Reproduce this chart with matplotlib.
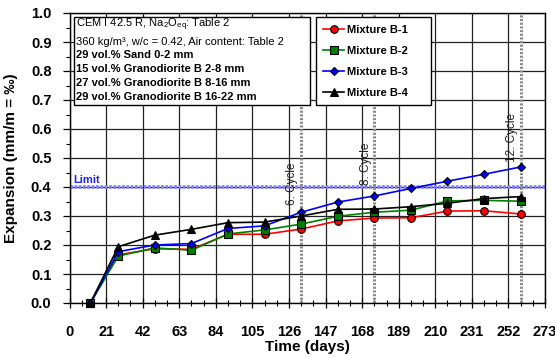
import matplotlib
matplotlib.use("Agg")
import matplotlib.pyplot as plt
from matplotlib.patches import Rectangle
from matplotlib.ticker import MultipleLocator

plt.rcParams['font.family'] = ['Liberation Sans', 'DejaVu Sans']
plt.rcParams['mathtext.fontset'] = 'custom'
plt.rcParams['mathtext.rm'] = 'Liberation Sans'
plt.rcParams['mathtext.it'] = 'Liberation Sans:italic'
plt.rcParams['mathtext.bf'] = 'Liberation Sans:bold'

# Measurement ages (days) and expansion of the four mixtures (mm/m)
days = [12, 28, 49, 70, 91, 112, 133, 154, 175, 196, 217, 238, 259]
mix_b1 = [0.0, 0.166, 0.187, 0.185, 0.237, 0.237, 0.255, 0.283, 0.293, 0.294, 0.317, 0.318, 0.307]
mix_b2 = [0.0, 0.162, 0.190, 0.182, 0.238, 0.252, 0.272, 0.299, 0.313, 0.320, 0.352, 0.354, 0.351]
mix_b3 = [0.0, 0.177, 0.200, 0.205, 0.257, 0.266, 0.313, 0.348, 0.369, 0.395, 0.420, 0.444, 0.469]
mix_b4 = [0.0, 0.194, 0.234, 0.254, 0.277, 0.279, 0.300, 0.323, 0.324, 0.332, 0.344, 0.360, 0.367]
series_labels = ["Mixture B-1", "Mixture B-2", "Mixture B-3", "Mixture B-4"]

limit_value = 0.4
cycle_days = [133, 175, 259]
cycle_labels = ["6. Cycle", "8. Cycle", "12. Cycle"]
cycle_label_y = [0.338, 0.407, 0.486]

info_lines = [
    (r"CEM I 42.5 R, Na$_2$O$_{\mathrm{eq}}$: Table 2", "normal"),
    ("360 kg/m³, w/c = 0.42, Air content: Table 2", "normal"),
    ("29 vol.% Sand 0-2 mm", "bold"),
    ("15 vol.% Granodiorite B 2-8 mm", "bold"),
    ("27 vol.% Granodiorite B 8-16 mm", "bold"),
    ("29 vol.% Granodiorite B 16-22 mm", "bold"),
]

W, H = 555, 358
fig = plt.figure(figsize=(W / 100, H / 100), dpi=100)
ax = fig.add_axes([69.5 / W, 1 - 303 / H, (545 - 69.5) / W, (303 - 13) / H])

ax.set_xlim(0, 273)
ax.set_ylim(0, 1.0)
ax.xaxis.set_major_locator(MultipleLocator(21))
ax.xaxis.set_minor_locator(MultipleLocator(7))
ax.yaxis.set_major_locator(MultipleLocator(0.1))
ax.yaxis.set_minor_locator(MultipleLocator(0.05))
ax.yaxis.set_major_formatter(matplotlib.ticker.FormatStrFormatter('%.1f'))

ax.grid(True, which='major', color='#222222', linewidth=0.9, zorder=0)
ax.set_axisbelow(True)
for s in ax.spines.values():
    s.set_linewidth(1.0)
    s.set_color('black')

ax.tick_params(axis='x', which='major', direction='inout', length=7, width=0.9, pad=12,
               labelsize=10.5)
ax.tick_params(axis='x', which='minor', direction='inout', length=5, width=0.8)
ax.tick_params(axis='y', which='major', direction='out', length=5, width=0.9, pad=8,
               labelsize=10.5)
ax.tick_params(axis='y', which='minor', direction='out', length=3, width=0.8)
for lab in ax.get_xticklabels() + ax.get_yticklabels():
    lab.set_fontweight('bold')

ax.set_xlabel("Time (days)", fontsize=11, fontweight='bold', labelpad=1)
ax.set_ylabel("Expansion (mm/m = ‰)", fontsize=11, fontweight='bold', labelpad=9)

# limit line
ax.axhline(limit_value, color='#8080ff', linewidth=2.6, linestyle=(0, (0.8, 0.4)), zorder=2)
ax.text(2.2, limit_value + 0.008, "Limit", color='#2222ee', fontsize=8, fontweight='bold',
        ha='left', va='bottom', zorder=3)

# cycle markers
for d, lab, yy in zip(cycle_days, cycle_labels, cycle_label_y):
    ax.axvline(d, color='#8a8a8a', linewidth=2.2, linestyle=(0, (0.7, 0.5)), zorder=2)
    ax.text(d - 1.6, yy, lab, rotation=90, ha='right', va='bottom', fontsize=8.5,
            color='#222222', zorder=3)

styles = [
    dict(color='#ff0000', marker='o', markersize=5.5),
    dict(color='#008000', marker='s', markersize=5.5),
    dict(color='#0000ff', marker='D', markersize=4.2),
    dict(color='#000000', marker='^', markersize=6),
]
handles = []
for vals, st, lab in zip([mix_b1, mix_b2, mix_b3, mix_b4], styles, series_labels):
    h, = ax.plot(days, vals, linewidth=1.2, markeredgecolor='black',
                 markeredgewidth=0.8, label=lab, zorder=4, clip_on=False, **st)
    handles.append(h)

# composition box
ax.add_patch(Rectangle((0.0095, 0.682), 0.4965, 0.303, transform=ax.transAxes,
                       facecolor='white', edgecolor='black', linewidth=1.0, zorder=5))
line_y_px = [25, 42, 55.5, 69.5, 82.5, 96.5]
for (txt, wt), ypx in zip(info_lines, line_y_px):
    ax.text(0.0137, (303 - ypx) / 290, txt, transform=ax.transAxes, fontsize=8,
            fontweight=wt, ha='left', va='center', zorder=6)

leg = ax.legend(handles=handles, loc='upper left', bbox_to_anchor=(0.518, 0.682, 0.242, 0.303),
                mode='expand', fancybox=False, framealpha=1, edgecolor='black',
                prop={'weight': 'bold', 'size': 8}, handlelength=1.9, handletextpad=0.3,
                labelspacing=1.0, borderpad=0.65, borderaxespad=0)
leg.get_frame().set_linewidth(1.0)
leg.set_zorder(6)

fig.savefig("out.png", dpi=100)
